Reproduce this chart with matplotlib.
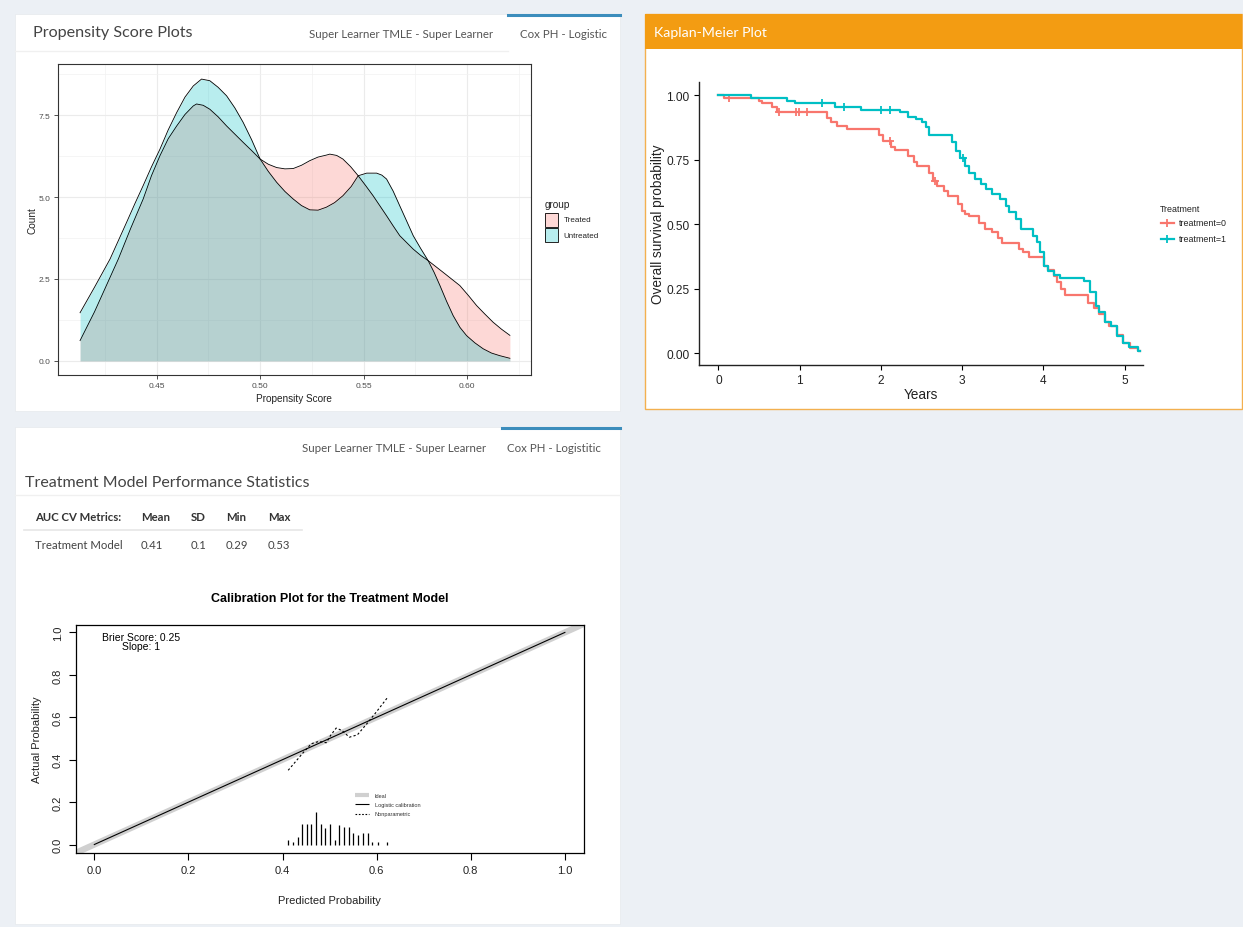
import numpy as np
import matplotlib.pyplot as plt
from matplotlib.patches import Rectangle

# --- propensity score densities ---
ps_x_untr = [0.413, 0.420, 0.4275, 0.4355, 0.4395, 0.4435, 0.4475, 0.4516, 0.4556, 0.4597,
             0.4637, 0.4677, 0.4717, 0.4757, 0.4797, 0.4838, 0.4878, 0.4918, 0.4959, 0.500,
             0.504, 0.508, 0.512, 0.516, 0.520, 0.524, 0.528, 0.532, 0.536, 0.540,
             0.544, 0.5474, 0.5515, 0.5563, 0.5588, 0.5611, 0.5643, 0.5675, 0.5708, 0.574,
             0.5776, 0.5812, 0.5841, 0.5869, 0.5901, 0.5933, 0.5966, 0.5998, 0.6038, 0.6078,
             0.6118, 0.6158, 0.6207]
ps_y_untr = [1.47, 2.25, 3.11, 4.23, 4.80, 5.35, 5.92, 6.46, 7.05, 7.58,
             8.05, 8.39, 8.60, 8.55, 8.35, 8.09, 7.72, 7.28, 6.75, 6.16,
             5.78, 5.45, 5.17, 4.94, 4.74, 4.61, 4.60, 4.69, 4.83, 5.04,
             5.32, 5.65, 5.73, 5.73, 5.67, 5.55, 5.18, 4.73, 4.27, 3.82,
             3.43, 3.06, 2.70, 2.30, 1.82, 1.38, 1.02, 0.77, 0.55, 0.37,
             0.24, 0.16, 0.08]
ps_x_trt = [0.413, 0.420, 0.425, 0.4315, 0.4375, 0.4435, 0.4475, 0.4516, 0.4556, 0.4597,
            0.4637, 0.4677, 0.4693, 0.4725, 0.4757, 0.4797, 0.4838, 0.4878, 0.4918, 0.4959,
            0.500, 0.504, 0.508, 0.512, 0.516, 0.520, 0.524, 0.528, 0.532, 0.5337,
            0.537, 0.540, 0.5437, 0.5474, 0.551, 0.5546, 0.5611, 0.5643, 0.5675, 0.574,
            0.5776, 0.5812, 0.5885, 0.5925, 0.5965, 0.6006, 0.6046, 0.6086, 0.6126, 0.6166,
            0.6207]
ps_y_trt = [0.62, 1.50, 2.20, 3.11, 4.05, 4.94, 5.65, 6.26, 6.78, 7.17,
            7.52, 7.78, 7.84, 7.80, 7.68, 7.45, 7.17, 6.92, 6.67, 6.42,
            6.16, 6.00, 5.90, 5.86, 5.87, 5.97, 6.11, 6.22, 6.28, 6.31,
            6.27, 6.16, 5.93, 5.65, 5.35, 5.04, 4.43, 4.12, 3.82, 3.41,
            3.22, 3.06, 2.70, 2.50, 2.30, 2.00, 1.69, 1.43, 1.18, 0.97,
            0.78]
ps_groups = ['Treated', 'Untreated']

# --- Kaplan-Meier steps ---
km_t0 = [0, 0.07, 0.50, 0.54, 0.66, 0.72, 1.34, 1.39, 1.46, 1.58, 1.98, 2.03, 2.13, 2.17,
         2.33, 2.41, 2.45, 2.59, 2.64, 2.69, 2.78, 2.83, 2.95, 3.00, 3.04, 3.09, 3.21, 3.28,
         3.37, 3.44, 3.49, 3.70, 3.75, 3.82, 4.01, 4.06, 4.13, 4.17, 4.22, 4.27, 4.55, 4.62,
         4.69, 4.76, 4.81, 4.91, 4.98, 5.07, 5.17, 5.19]
km_s0 = [1.0, 0.99, 0.978, 0.968, 0.952, 0.935, 0.913, 0.894, 0.881, 0.868, 0.845, 0.823, 0.797, 0.788,
         0.765, 0.739, 0.726, 0.70, 0.668, 0.649, 0.629, 0.61, 0.578, 0.552, 0.539, 0.53, 0.506, 0.481,
         0.468, 0.448, 0.426, 0.403, 0.39, 0.371, 0.339, 0.323, 0.30, 0.274, 0.248, 0.225, 0.196, 0.173,
         0.151, 0.119, 0.106, 0.07, 0.041, 0.018, 0.009, 0.009]
km_t1 = [0, 0.40, 0.84, 0.94, 1.44, 1.75, 2.24, 2.33, 2.43, 2.50, 2.55, 2.59, 2.88, 2.92, 2.97,
         3.03, 3.09, 3.16, 3.23, 3.30, 3.37, 3.47, 3.54, 3.58, 3.66, 3.73, 3.87, 3.92, 3.96, 4.01,
         4.06, 4.13, 4.20, 4.50, 4.58, 4.65, 4.69, 4.76, 4.83, 4.91, 4.98, 5.05, 5.17, 5.19]
km_s1 = [1.0, 0.99, 0.979, 0.968, 0.955, 0.944, 0.933, 0.917, 0.906, 0.894, 0.875, 0.845, 0.817, 0.784, 0.755,
         0.726, 0.70, 0.674, 0.655, 0.636, 0.616, 0.597, 0.571, 0.545, 0.519, 0.481, 0.455, 0.429, 0.39, 0.339,
         0.319, 0.302, 0.292, 0.28, 0.235, 0.183, 0.158, 0.119, 0.106, 0.067, 0.041, 0.022, 0.009, 0.009]
cens_t0 = [0.13, 0.74, 0.96, 0.99, 1.09, 2.11, 2.67]
cens_t1 = [1.27, 1.55, 2.00, 2.11, 3.01]
km_labels = ['treatment=0', 'treatment=1']

# --- AUC table ---
auc_cols = ['AUC CV Metrics:', 'Mean', 'SD', 'Min', 'Max']
auc_row = ['Treatment Model', '0.41', '0.1', '0.29', '0.53']

# --- calibration plot ---
np_x = [0.412, 0.445, 0.461, 0.477, 0.493, 0.502, 0.514, 0.526, 0.542, 0.559, 0.579, 0.599, 0.622]
np_y = [0.35, 0.436, 0.475, 0.486, 0.48, 0.514, 0.549, 0.538, 0.506, 0.517, 0.569, 0.624, 0.69]
spike_x = [0.412, 0.422, 0.432, 0.441, 0.451, 0.461, 0.471, 0.481, 0.491, 0.501, 0.511,
           0.521, 0.531, 0.541, 0.550, 0.561, 0.571, 0.581, 0.591, 0.602, 0.622]
spike_h = [0.02, 0.01, 0.036, 0.099, 0.099, 0.099, 0.154, 0.099, 0.078, 0.099, 0.02,
           0.091, 0.083, 0.083, 0.052, 0.047, 0.052, 0.055, 0.013, 0.013, 0.013]

W, H = 1243, 928
UI = 'Lato'
RF = 'Liberation Sans'
RED, CYAN = '#F8766D', '#00BFC4'

fig = plt.figure(figsize=(W / 100, H / 100), dpi=100, facecolor='#ecf0f5')


def px_axes(x0, y0, x1, y1):
    return fig.add_axes([x0 / W, 1 - y1 / H, (x1 - x0) / W, (y1 - y0) / H])


# dashboard background layer
bg = fig.add_axes([0, 0, 1, 1])
bg.set_xlim(0, W)
bg.set_ylim(H, 0)
bg.axis('off')

# boxes
bg.add_patch(Rectangle((15, 15), 605, 397, fc='white', ec='#e6e9ed', lw=0.5))
bg.add_patch(Rectangle((15, 428), 605, 497, fc='white', ec='#e6e9ed', lw=0.5))
bg.add_patch(Rectangle((645, 15), 597, 395, fc='white', ec='#f3b04f', lw=1.0))
bg.add_patch(Rectangle((645, 15), 597, 35, fc='#f39c12', ec='none'))

# tabs / headers of the propensity box
bg.plot([15, 508], [52, 52], color='#f0f0f0', lw=1)
bg.plot([508, 620], [16, 16], color='#3c8dbc', lw=2.2)
bg.text(33, 33, 'Propensity Score Plots', fontsize=11.6, family=UI, color='#444444', va='center')
bg.text(401, 34, 'Super Learner TMLE - Super Learner', fontsize=8.3, family=UI, color='#555555',
        va='center', ha='center')
bg.text(564, 34, 'Cox PH - Logistic', fontsize=8.3, family=UI, color='#555555', va='center', ha='center')

# Kaplan-Meier header
bg.text(654, 33, 'Kaplan-Meier Plot', fontsize=10.2, family=UI, color='white', va='center')

# bottom box tabs / title / table
bg.plot([502, 620], [429, 429], color='#3c8dbc', lw=2.2)
bg.text(394, 449, 'Super Learner TMLE - Super Learner', fontsize=8.3, family=UI, color='#555555',
        va='center', ha='center')
bg.text(554, 449, 'Cox PH - Logistitic', fontsize=8.3, family=UI, color='#555555', va='center', ha='center')
bg.text(25, 483, 'Treatment Model Performance Statistics', fontsize=11.5, family=UI, color='#444444',
        va='center')
bg.plot([15, 620], [496, 496], color='#f0f0f0', lw=1)
col_x = [35, 141, 191, 226, 268]
for cx, hd, val in zip(col_x, auc_cols, auc_row):
    bg.text(cx, 518, hd, fontsize=8.2, family=UI, weight='bold', color='#333333', va='center')
    bg.text(cx, 546, val, fontsize=8.2, family=UI, color='#444444', va='center')
bg.plot([24, 302], [531, 531], color='#e6e6e6', lw=1.2)

# ---------------- propensity score density plot ----------------
ax = px_axes(57.5, 65, 531, 376)
ax.set_facecolor('white')
for xs, ys, col in [(ps_x_trt, ps_y_trt, RED), (ps_x_untr, ps_y_untr, CYAN)]:
    ax.fill_between(xs, ys, 0, color=col, alpha=0.28, lw=0)
    ax.plot(xs, ys, color='black', lw=0.6)
ax.set_xlim(0.4021, 0.6309)
ax.set_ylim(-0.43, 9.06)
ax.set_xticks([0.45, 0.50, 0.55, 0.60])
ax.set_xticklabels(['0.45', '0.50', '0.55', '0.60'])
ax.set_xticks([0.425, 0.475, 0.525, 0.575, 0.625], minor=True)
ax.set_yticks([0.0, 2.5, 5.0, 7.5])
ax.set_yticklabels(['0.0', '2.5', '5.0', '7.5'])
ax.set_yticks([1.25, 3.75, 6.25, 8.75], minor=True)
ax.grid(which='major', color='#ebebeb', lw=0.8)
ax.grid(which='minor', color='#f2f2f2', lw=0.5)
ax.set_axisbelow(True)
ax.tick_params(which='major', length=3, width=0.6, color='#333333', labelsize=6, labelcolor='#4d4d4d', pad=2)
ax.tick_params(which='minor', length=0)
for lab in ax.get_xticklabels() + ax.get_yticklabels():
    lab.set_family(RF)
for sp in ax.spines.values():
    sp.set_color('#333333')
    sp.set_linewidth(0.8)
ax.set_xlabel('Propensity Score', fontsize=7.2, family=RF, color='#222222', labelpad=3)
ax.set_ylabel('Count', fontsize=7.2, family=RF, color='#222222', labelpad=1)
# legend drawn on the background layer
bg.text(545, 205, 'group', fontsize=7.2, family=RF, color='#222222', va='center')
for i, (g, col) in enumerate(zip(ps_groups, [RED, CYAN])):
    y0 = 214 + i * 15
    bg.add_patch(Rectangle((545, y0), 13.5, 13.5, fc=col, alpha=0.28, ec='none'))
    bg.add_patch(Rectangle((545, y0), 13.5, 13.5, fc='none', ec='black', lw=0.6))
    bg.text(563.5, y0 + 7, g, fontsize=5.8, family=RF, color='#222222', va='center')

# ---------------- Kaplan-Meier plot ----------------
km = px_axes(698.6, 82.7, 1142.8, 365.7)
km.set_facecolor('white')
for t, s, ct, col in [(km_t0, km_s0, cens_t0, RED), (km_t1, km_s1, cens_t1, CYAN)]:
    km.step(t, s, where='post', color=col, lw=1.6)
    t_arr = np.array(t)
    s_arr = np.array(s)
    idx = np.searchsorted(t_arr, ct, side='right') - 1
    km.plot(ct, s_arr[idx], ls='none', marker='+', ms=6, mew=1.3, color=col)
km.set_xlim(-0.245, 5.225)
km.set_ylim(-0.045, 1.052)
km.set_xticks([0, 1, 2, 3, 4, 5])
km.set_yticks([0, 0.25, 0.5, 0.75, 1.0])
km.set_yticklabels(['0.00', '0.25', '0.50', '0.75', '1.00'])
for sp in ['top', 'right']:
    km.spines[sp].set_visible(False)
for sp in ['left', 'bottom']:
    km.spines[sp].set_linewidth(1.0)
    km.spines[sp].set_color('#222222')
km.tick_params(length=3.5, width=0.8, labelsize=8.6, labelcolor='#222222', pad=3)
for lab in km.get_xticklabels() + km.get_yticklabels():
    lab.set_family(RF)
km.set_xlabel('Years', fontsize=9.8, family=RF, color='#222222', labelpad=1)
km.set_ylabel('Overall survival probability', fontsize=9.8, family=RF, color='#222222', labelpad=1)
bg.text(1160, 209, 'Treatment', fontsize=6.4, family=RF, color='#222222', va='center')
for i, (lab, col) in enumerate(zip(km_labels, [RED, CYAN])):
    yy = 224 + i * 15.5
    bg.plot([1161, 1174], [yy, yy], color=col, lw=1.6)
    bg.plot([1167.5], [yy], marker='+', ms=6, mew=1.3, color=col)
    bg.text(1179, yy, lab, fontsize=6.4, family=RF, color='#222222', va='center')

# ---------------- calibration plot ----------------
cal = px_axes(75.5, 626, 583.7, 854)
cal.set_facecolor('white')
cal.plot([-0.05, 1.05], [-0.05, 1.05], color='#d0d0d0', lw=4.5, solid_capstyle='butt')
cal.plot([0, 1], [0, 1], color='black', lw=0.8)
cal.plot(np_x, np_y, color='black', lw=0.8, ls=(0, (2, 2)))
cal.vlines(spike_x, 0, spike_h, color='black', lw=0.9)
cal.set_xlim(-0.04, 1.04)
cal.set_ylim(-0.04, 1.035)
cal.set_xticks([0, 0.2, 0.4, 0.6, 0.8, 1.0])
cal.set_xticklabels(['0.0', '0.2', '0.4', '0.6', '0.8', '1.0'])
cal.set_yticks([0, 0.2, 0.4, 0.6, 0.8, 1.0])
cal.set_yticklabels(['0.0', '0.2', '0.4', '0.6', '0.8', '1.0'], rotation=90, va='center')
cal.tick_params(length=5, width=0.8, labelsize=8, labelcolor='#222222', pad=4)
for lab in cal.get_xticklabels() + cal.get_yticklabels():
    lab.set_family(RF)
for sp in cal.spines.values():
    sp.set_linewidth(0.9)
cal.set_xlabel('Predicted Probability', fontsize=8, family=RF, color='#222222', labelpad=14)
cal.set_ylabel('Actual Probability', fontsize=8, family=RF, color='#222222', labelpad=8)
cal.set_title('Calibration Plot for the Treatment Model', fontsize=9, family=RF, weight='bold', pad=17)
cal.text(0.099, 0.98, 'Brier Score: 0.25', fontsize=7.5, family=RF, ha='center', va='center')
cal.text(0.099, 0.937, 'Slope: 1', fontsize=7.5, family=RF, ha='center', va='center')
# legend
leg_items = [('Ideal', dict(color='#d0d0d0', lw=3)),
             ('Logistic calibration', dict(color='black', lw=0.8)),
             ('Nonparametric', dict(color='black', lw=0.8, ls=(0, (1.5, 1.5))))]
for i, (lab, st) in enumerate(leg_items):
    yy = 0.232 - i * 0.043
    cal.plot([0.554, 0.583], [yy, yy], solid_capstyle='butt', **st)
    cal.text(0.596, yy, lab, fontsize=4, family=RF, color='#333333', va='center')

fig.savefig('out.png', dpi=100, facecolor=fig.get_facecolor())
